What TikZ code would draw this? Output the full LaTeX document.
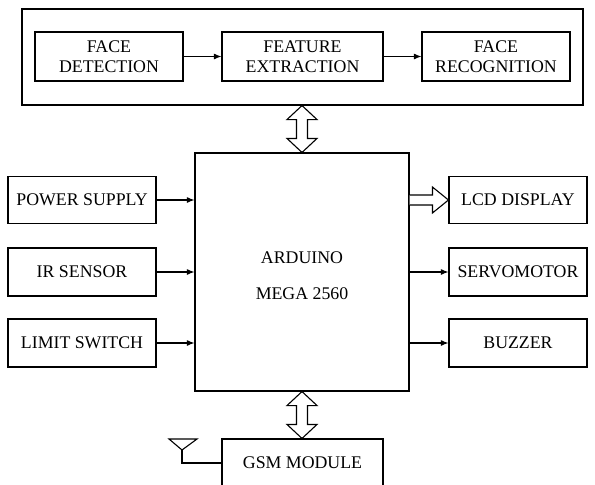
\documentclass[tikz,border=0pt]{standalone}
\usepackage{fontspec}
\setmainfont{Liberation Serif}
\usepackage{tikz}
\usetikzlibrary{arrows.meta,calc}

\tikzset{
    block/.style={draw, line width=1.1pt, inner sep=0pt, align=center,
        font=\fontsize{17.8}{20}\selectfont},
    conn/.style={line width=1.1pt, -{Latex[length=7.5pt,width=6pt]}},
    hollow/.style={draw, line width=1.1pt, fill=white, line join=miter}
}

\begin{document}
\begin{tikzpicture}[x=1pt,y=-1pt]
    \useasboundingbox (0,0) rectangle (595,485);

    % Face processing stage
    \node[block, minimum width=561pt, minimum height=96pt] (frame) at (302.5,57) {};
    \node[block, minimum width=148pt, minimum height=49pt] (facedet) at (109,56.5) {FACE\\DETECTION};
    \node[block, minimum width=161pt, minimum height=49pt] (featext) at (302.5,56.5) {FEATURE\\EXTRACTION};
    \node[block, minimum width=148pt, minimum height=49pt] (facerec) at (496,56.5) {FACE\\RECOGNITION};
    \draw[conn] (facedet.east) -- (featext.west);
    \draw[conn] (featext.east) -- (facerec.west);

    % Controller
    \node[block, minimum width=214pt, minimum height=238pt] (arduino) at (302,272) {};
    \node[block, draw=none] (arduinotext) at ($(arduino.center)+(0,4)$) {ARDUINO\\[16pt]MEGA 2560};

    % Inputs (left)
    \node[block, minimum width=148pt, minimum height=47pt] (power) at (82,200) {POWER SUPPLY};
    \node[block, minimum width=148pt, minimum height=48pt] (irsensor) at (82,272) {IR SENSOR};
    \node[block, minimum width=148pt, minimum height=48pt] (limit) at (82,343) {LIMIT SWITCH};
    \foreach \src in {power,irsensor,limit} {
        \draw[conn] (\src.east) -- (arduino.west |- \src.east);
    }

    % Outputs (right)
    \node[block, minimum width=138pt, minimum height=47pt] (lcd) at (518,200) {LCD DISPLAY};
    \node[block, minimum width=138pt, minimum height=48pt] (servo) at (518,272) {SERVOMOTOR};
    \node[block, minimum width=138pt, minimum height=48pt] (buzzer) at (518,343) {BUZZER};
    \foreach \dst in {servo,buzzer} {
        \draw[conn] (arduino.east |- \dst.west) -- (\dst.west);
    }

    % Fat arrow to the display
    \coordinate (lcdsrc) at (arduino.east |- lcd.west);
    \draw[hollow] ($(lcdsrc)+(0,-5)$) -- ($(lcd.west)+(-16,-5)$) -- ($(lcd.west)+(-16,-13)$)
        -- (lcd.west) -- ($(lcd.west)+(-16,13)$) -- ($(lcd.west)+(-16,5)$) -- ($(lcdsrc)+(0,5)$);

    % GSM module
    \node[block, minimum width=161pt, minimum height=48pt] (gsm) at (302.5,463) {GSM MODULE};
    \coordinate (ant) at (182,450);
    \draw[line width=1.1pt] (gsm.west) -| (ant);
    \draw[line width=1.1pt, line join=miter] (ant) -- ++(-13,-11) -- ++(28,0) -- cycle;

    % Double arrows
    \coordinate (t1) at (arduino.north |- frame.south);
    \coordinate (b1) at (arduino.north);
    \draw[hollow] (t1) -- ($(t1)+(15,14)$) -- ($(t1)+(5.5,14)$) -- ($(b1)+(5.5,-14)$) -- ($(b1)+(15,-14)$)
        -- (b1) -- ($(b1)+(-15,-14)$) -- ($(b1)+(-5.5,-14)$) -- ($(t1)+(-5.5,14)$) -- ($(t1)+(-15,14)$) -- cycle;
    \coordinate (t2) at (arduino.south);
    \coordinate (b2) at (arduino.south |- gsm.north);
    \draw[hollow] (t2) -- ($(t2)+(15,14)$) -- ($(t2)+(5.5,14)$) -- ($(b2)+(5.5,-14)$) -- ($(b2)+(15,-14)$)
        -- (b2) -- ($(b2)+(-15,-14)$) -- ($(b2)+(-5.5,-14)$) -- ($(t2)+(-5.5,14)$) -- ($(t2)+(-15,14)$) -- cycle;
\end{tikzpicture}
\end{document}
